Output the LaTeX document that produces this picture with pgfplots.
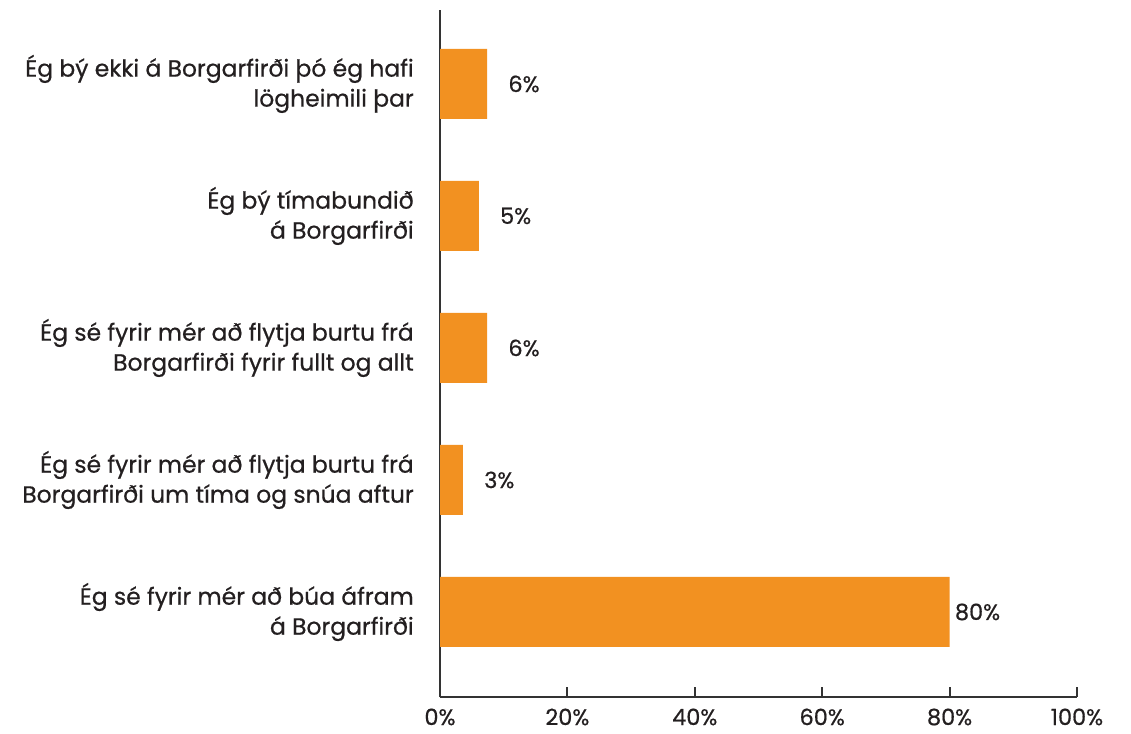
\documentclass[border=0pt]{standalone}
\usepackage{pgfplots}
\pgfplotsset{compat=1.18}
\usepackage{pgfplotstable}
\usepackage{fontspec}
\setmainfont{Poppins}[FakeBold=0.6]
\definecolor{barorange}{HTML}{F29121}
\definecolor{axisgray}{HTML}{333333}
\definecolor{txt}{HTML}{231F20}
\pgfplotstableread{
y val lx lab
0 80.0 80.8 80
1 3.6 6.9 3
2 7.4 10.7 6
3 6.1 9.4 5
4 7.4 10.7 6
}\datatable
\begin{document}
\begin{tikzpicture}
\path[use as bounding box] (0,0) rectangle (848.25pt,549.75pt);
\begin{axis}[
  at={(330pt,27pt)}, anchor=south west,
  scale only axis, width=477.75pt, height=515.25pt,
  xmin=0, xmax=100, ymin=-0.644, ymax=4.56,
  axis x line=bottom, axis y line=left,
  axis line style={axisgray, line width=1.5pt, -},
  clip=false,
  xtick={0,20,40,60,80,100},
  xticklabels={0\%,20\%,40\%,60\%,80\%,100\%},
  tick align=inside, major tick length=7.5pt,
  xtick style={axisgray, line width=1.5pt},
  xticklabel style={font=\fontsize{16.8}{18}\selectfont, text=txt, inner sep=0pt, anchor=north, yshift=-8.5pt},
  ytick={0,1,2,3,4},
  ytick style={draw=none},
  yticklabels={{Ég sé fyrir mér að búa áfram\\á Borgarfirði},
               {Ég sé fyrir mér að flytja burtu frá\\Borgarfirði um tíma og snúa aftur},
               {Ég sé fyrir mér að flytja burtu frá\\Borgarfirði fyrir fullt og allt},
               {Ég bý tímabundið\\á Borgarfirði},
               {Ég bý ekki á Borgarfirði þó ég hafi\\lögheimili þar}},
  yticklabel style={align=right, font=\fontsize{17.6}{22.5}\selectfont, text=txt, inner sep=0pt, anchor=east, xshift=-19.5pt},
]
\addplot[xbar, bar width=52.5pt, fill=barorange, draw=none] table[x=val, y=y] {\datatable};
\addplot[draw=none, mark=none, point meta=explicit symbolic, nodes near coords={\pgfplotspointmeta\%},
  every node near coord/.style={anchor=west, inner sep=0pt, font=\fontsize{16.8}{18}\selectfont, text=txt}]
  table[x=lx, y=y, meta=lab] {\datatable};
\end{axis}
\end{tikzpicture}
\end{document}
